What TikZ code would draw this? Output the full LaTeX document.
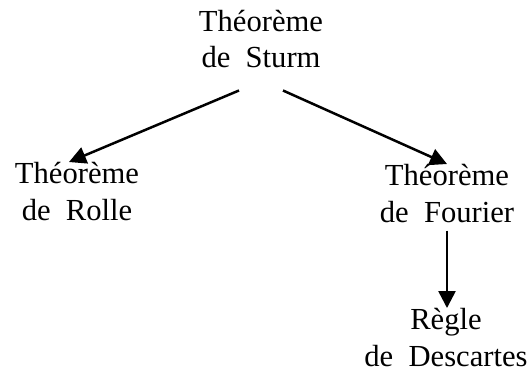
\documentclass[tikz,border=0pt]{standalone}
\usepackage{fontspec}
\setmainfont[WordSpace=2]{Liberation Serif}
\usetikzlibrary{arrows.meta}
\tikzset{
  lbl/.style={align=center, inner sep=0pt, anchor=base,
    font=\fontsize{30.6}{36.5}\selectfont},
  arr/.style={line width=2.5pt, -{Triangle[length=17pt,width=17pt]}}
}
\begin{document}
\begin{tikzpicture}[x=1pt,y=-1pt]
\useasboundingbox (0,0) rectangle (529,374);
\node[lbl] (sturm) at (261,68) {Théorème\\de Sturm};
\node[lbl] (rolle) at (77,220) {Théorème\\de Rolle};
\node[lbl] (fourier) at (447,222) {Théorème\\de Fourier};
\node[lbl] (descartes) at (446,366) {Règle\\de Descartes};
\draw[arr] ([xshift=-22pt,yshift=-22pt]sturm.south) -- ([xshift=-8pt]rolle.north);
\draw[arr] ([xshift=22pt,yshift=-22pt]sturm.south) -- (fourier.north);
\draw[arr] ([yshift=-8pt]fourier.south) -- (fourier.south |- descartes.north);
\end{tikzpicture}
\end{document}
